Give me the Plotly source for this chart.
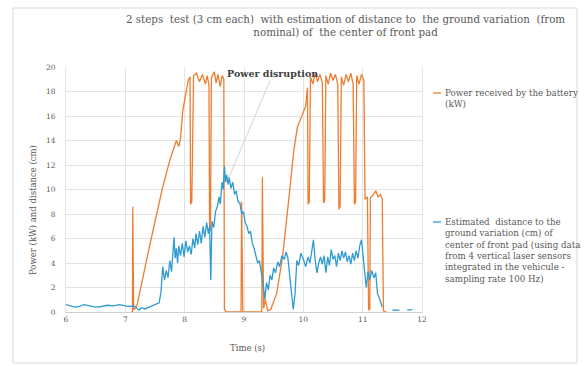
import plotly.graph_objects as go

# Power received by the battery (kW) vs time (s)
power_t = [7.10, 7.12, 7.125, 7.14, 7.17, 7.20, 7.40, 7.62, 7.75, 7.86, 7.90, 7.93, 7.97, 8.02, 8.06, 8.09,
           8.10, 8.12, 8.15, 8.20, 8.25, 8.30, 8.35, 8.38, 8.41, 8.42, 8.435, 8.45, 8.50, 8.53, 8.56, 8.60,
           8.63, 8.66, 8.67, 8.70, 8.95, 8.96, 8.98, 9.30, 9.31, 9.33, 9.36, 9.40, 9.45, 9.55, 9.65, 9.75,
           9.84, 9.90, 9.97, 10.04, 10.07, 10.08, 10.10, 10.12, 10.16, 10.20, 10.24, 10.28, 10.32, 10.34,
           10.36, 10.38, 10.42, 10.46, 10.50, 10.54, 10.58, 10.60, 10.62, 10.64, 10.68, 10.72, 10.76, 10.80,
           10.84, 10.86, 10.88, 10.90, 10.94, 10.98, 11.02, 11.04, 11.08, 11.10, 11.12, 11.13, 11.18, 11.22,
           11.26, 11.30, 11.33, 11.35, 11.40]
power_kw = [0.0, 0.0, 8.6, 0.2, 0.3, 0.6, 5.2, 10.0, 12.4, 14.0, 13.5, 14.2, 16.5, 17.9, 18.9, 19.2,
            8.8, 9.0, 19.3, 19.5, 18.8, 19.4, 18.6, 19.3, 18.5, 6.5, 6.8, 19.1, 19.6, 18.7, 19.4, 18.4,
            19.3, 19.0, 0.2, 0.0, 0.0, 9.0, 0.0, 0.0, 11.0, 0.3, 1.0, 0.1, 0.2, 1.5, 4.5, 9.0,
            13.2, 15.1, 15.9, 16.8, 18.3, 8.8, 9.0, 19.2, 18.6, 19.5, 18.8, 19.4, 18.7, 8.9,
            9.1, 19.3, 18.6, 19.5, 18.9, 19.4, 18.6, 8.4, 8.6, 19.2, 18.5, 19.4, 18.8, 19.5,
            18.6, 8.8, 9.0, 19.3, 18.6, 19.4, 18.9, 9.2, 9.4, 0.2, 0.2, 9.3, 9.6, 9.9,
            9.4, 9.6, 9.2, 0.1, 0.0]

# Estimated ground-distance variation of the front pad centre (cm) vs time (s)
dist_t = [6.00, 6.07, 6.15, 6.23, 6.30, 6.40, 6.50, 6.60, 6.70, 6.80, 6.90, 7.00, 7.08, 7.15, 7.20, 7.23,
          7.27, 7.33, 7.40, 7.50, 7.57, 7.60, 7.63, 7.66, 7.69, 7.72, 7.75, 7.78, 7.80, 7.82, 7.84, 7.86,
          7.88, 7.90, 7.93, 7.96, 7.99, 8.02, 8.05, 8.08, 8.11, 8.14, 8.17, 8.19, 8.22, 8.25, 8.28, 8.31,
          8.34, 8.37, 8.40, 8.42, 8.44, 8.46, 8.49, 8.52, 8.55, 8.58, 8.60, 8.63, 8.65, 8.67, 8.69, 8.71,
          8.73, 8.75, 8.78, 8.81, 8.84, 8.87, 8.90, 8.93, 8.96, 8.99, 9.02, 9.05, 9.08, 9.11, 9.14, 9.17,
          9.20, 9.23, 9.26, 9.30, 9.33, 9.35, 9.38, 9.41, 9.44, 9.47, 9.50, 9.53, 9.57, 9.60, 9.64, 9.68,
          9.71, 9.74, 9.77, 9.80, 9.83, 9.86, 9.89, 9.92, 9.96, 10.00, 10.04, 10.08, 10.11, 10.14, 10.17,
          10.20, 10.23, 10.26, 10.29, 10.32, 10.35, 10.38, 10.41, 10.44, 10.47, 10.50, 10.53, 10.56, 10.59,
          10.62, 10.65, 10.68, 10.71, 10.74, 10.77, 10.80, 10.83, 10.86, 10.89, 10.92, 10.95, 10.98, 11.00,
          11.03, 11.06, 11.09, 11.12, 11.15, 11.19, 11.22, 11.25, 11.29, 11.33, None, 11.50, 11.62, None,
          11.75, 11.84]
dist_cm = [0.60, 0.50, 0.40, 0.45, 0.60, 0.50, 0.40, 0.45, 0.55, 0.50, 0.60, 0.50, 0.45, 0.50, 0.30, 0.15,
           0.35, 0.25, 0.40, 0.60, 0.75, 1.6, 3.7, 2.6, 3.4, 2.8, 4.2, 3.3, 4.8, 6.1, 4.4, 5.2,
           4.0, 5.4, 4.6, 5.6, 4.5, 5.8, 4.9, 5.4, 4.7, 6.0, 5.2, 6.4, 5.5, 6.6, 5.6, 7.0,
           6.1, 7.3, 6.4, 7.0, 2.6, 7.4, 6.9, 8.2, 8.6, 9.4, 8.8, 10.6, 10.0, 11.9, 10.6, 11.2,
           10.4, 11.0, 10.1, 10.6, 9.6, 9.9, 9.0, 8.9, 8.0, 8.2, 7.3, 7.0, 6.4, 6.6, 5.6, 5.2,
           4.6, 4.0, 4.2, 3.0, 2.0, 1.0, 2.4, 1.8, 3.0, 2.6, 3.6, 3.2, 4.1, 3.7, 4.6, 4.3,
           4.9, 4.4, 3.0, 1.2, 0.2, 1.5, 4.2, 3.8, 4.8, 4.3, 3.7, 4.5, 4.0, 4.9, 5.9,
           4.2, 3.2, 4.0, 4.5, 3.9, 4.6, 3.2, 4.5, 3.8, 5.1, 4.3, 4.6, 3.7, 4.8,
           4.2, 5.0, 4.4, 4.9, 4.1, 4.6, 3.9, 4.8, 4.2, 5.0, 4.4, 5.4, 5.9, 4.9,
           3.7, 2.0, 3.3, 2.6, 3.4, 2.8, 3.2, 1.5, 1.0, 0.4, None, 0.15, 0.15, None,
           0.15, 0.20]

x_ticks = [6, 7, 8, 9, 10, 11, 12]
y_ticks = [0, 2, 4, 6, 8, 10, 12, 14, 16, 18, 20]

SERIF = "DejaVu Serif"
GREY = "#595959"
ORANGE = "#ED7D31"
BLUE = "#2F9BD3"

fig = go.Figure()
fig.add_trace(go.Scatter(x=power_t, y=power_kw, mode="lines",
                         line=dict(color=ORANGE, width=1.3), showlegend=False))
fig.add_trace(go.Scatter(x=dist_t, y=dist_cm, mode="lines", connectgaps=False,
                         line=dict(color=BLUE, width=1.3), showlegend=False))

# plot area in pixels: x 66..422, y 67..312
L, R, T, B = 66, 422, 67, 312
W, H = R - L, B - T


def px(xp):
    return (xp - L) / W


def py(yp):
    return (B - yp) / H


fig.update_layout(
    width=585, height=366,
    margin=dict(l=L, r=585 - R, t=T, b=366 - B),
    paper_bgcolor="white", plot_bgcolor="white",
    font=dict(family=SERIF, color=GREY),
    xaxis=dict(range=[6, 12], tickvals=x_ticks, ticktext=[str(v) for v in x_ticks],
               showgrid=True, gridcolor="#e3e3e3", gridwidth=1,
               showline=True, linecolor="#d0d0d0", linewidth=1, zeroline=False,
               ticks="", tickfont=dict(family=SERIF, size=7.5, color=GREY)),
    yaxis=dict(range=[0, 20], tickvals=y_ticks, ticktext=[str(v) for v in y_ticks],
               showgrid=True, gridcolor="#e3e3e3", gridwidth=1,
               showline=True, mirror=True, linecolor="#e3e3e3", linewidth=1, zeroline=False,
               ticks="", ticklabelstandoff=8, tickfont=dict(family=SERIF, size=7.5, color=GREY)),
)

annotations = [
    # chart title
    dict(text="2 steps  test (3 cm each)  with estimation of distance to  the ground variation  (from"
              "<br>nominal) of  the center of front pad",
         xref="paper", yref="paper", x=px(345), y=py(11), xanchor="center", yanchor="top",
         showarrow=False, align="center", font=dict(family=SERIF, size=10.3, color=GREY)),
    # axis titles
    dict(text="Time (s)", xref="paper", yref="paper", x=px(247), y=py(348),
         xanchor="center", yanchor="middle", showarrow=False,
         font=dict(family=SERIF, size=8.5, color=GREY)),
    dict(text="Power (kW) and distance (cm)", xref="paper", yref="paper", x=px(33), y=py(210),
         xanchor="center", yanchor="middle", textangle=-90, showarrow=False,
         font=dict(family=SERIF, size=8.5, color=GREY)),
    # callout
    dict(text="<b>Power disruption</b>", x=8.73, y=10.8, xref="x", yref="y",
         ax=45, ay=-106, axref="pixel", ayref="pixel", showarrow=True, arrowhead=0,
         arrowwidth=0.8, arrowcolor="#c8c8c8", font=dict(family=SERIF, size=9.5, color="#404040")),
    # legend texts
    dict(text="Power received by the battery<br>(kW)", xref="paper", yref="paper",
         x=px(443), y=py(86), xanchor="left", yanchor="top", align="left", showarrow=False,
         font=dict(family=SERIF, size=8.7, color=GREY)),
    dict(text="Estimated  distance to the<br>ground variation (cm) of<br>center of front pad (using data"
              "<br>from 4 vertical laser sensors<br>integrated in the vehicule -<br>sampling rate 100 Hz)",
         xref="paper", yref="paper", x=px(443), y=py(215), xanchor="left", yanchor="top",
         align="left", showarrow=False, font=dict(family=SERIF, size=8.7, color=GREY)),
]
fig.update_layout(annotations=annotations)

shapes = [
    # legend line samples
    dict(type="line", xref="paper", yref="paper", x0=px(433), x1=px(441), y0=py(93), y1=py(93),
         line=dict(color=ORANGE, width=1.3)),
    dict(type="line", xref="paper", yref="paper", x0=px(433), x1=px(441), y0=py(222), y1=py(222),
         line=dict(color=BLUE, width=1.3)),
    # chart frame
    dict(type="rect", xref="paper", yref="paper", x0=px(13), x1=px(577), y0=py(363), y1=py(8),
         line=dict(color="#d9d9d9", width=1), fillcolor="rgba(0,0,0,0)", layer="below"),
]
fig.update_layout(shapes=shapes)

fig.write_html("out.html")
